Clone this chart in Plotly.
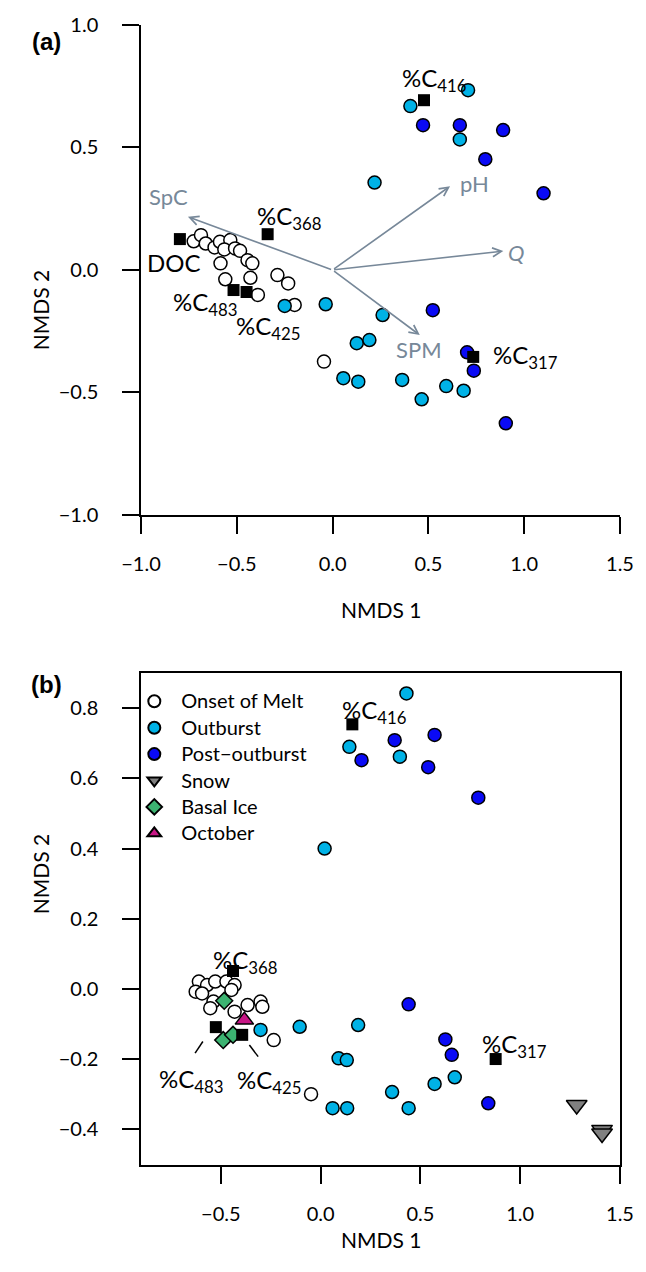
import plotly.graph_objects as go

# ---------------- data: panel (a) ----------------
a_onset_x = [-0.725, -0.687, -0.662, -0.616, -0.588, -0.534, -0.565, -0.509, -0.483, -0.585,
             -0.444, -0.419, -0.560, -0.429, -0.390, -0.288, -0.232, -0.198, -0.045]
a_onset_y = [0.117, 0.142, 0.108, 0.092, 0.115, 0.122, 0.084, 0.088, 0.078, 0.027,
             0.040, 0.027, -0.038, -0.032, -0.102, -0.021, -0.055, -0.143, -0.374]
a_outburst_x = [-0.250, -0.036, 0.261, 0.126, 0.192, 0.056, 0.134, 0.363, 0.465, 0.593,
                0.684, 0.707, 0.406, 0.664, 0.219]
a_outburst_y = [-0.147, -0.140, -0.184, -0.299, -0.286, -0.442, -0.456, -0.449, -0.528, -0.474,
                -0.493, 0.734, 0.669, 0.533, 0.357]
a_post_x = [0.472, 0.664, 0.890, 0.797, 1.101, 0.523, 0.702, 0.737, 0.904]
a_post_y = [0.591, 0.591, 0.571, 0.452, 0.313, -0.164, -0.336, -0.411, -0.626]
a_sq_x = [-0.797, -0.339, -0.517, -0.449, 0.477, 0.734]
a_sq_y = [0.126, 0.146, -0.082, -0.090, 0.693, -0.355]

vec_names = ["SpC", "pH", "Q", "SPM"]
vec_x = [-0.755, 0.613, 0.891, 0.455]
vec_y = [0.217, 0.342, 0.077, -0.266]

# ---------------- data: panel (b) ----------------
b_onset_x = [-0.610, -0.569, -0.528, -0.472, -0.431, -0.626, -0.594, -0.537, -0.447, -0.553,
             -0.431, -0.366, -0.301, -0.292, -0.235, -0.048]
b_onset_y = [0.021, 0.011, 0.021, 0.021, 0.011, -0.008, -0.013, -0.036, -0.003, -0.055,
             -0.065, -0.046, -0.036, -0.051, -0.146, -0.300]
b_outburst_x = [-0.301, -0.105, 0.188, 0.090, 0.131, 0.672, 0.571, 0.060, 0.133, 0.358,
                0.441, 0.430, 0.144, 0.397, 0.020]
b_outburst_y = [-0.117, -0.108, -0.103, -0.198, -0.203, -0.252, -0.271, -0.340, -0.340, -0.294,
                -0.340, 0.842, 0.690, 0.662, 0.400]
b_post_x = [0.441, 0.625, 0.657, 0.840, 0.371, 0.571, 0.205, 0.539, 0.790]
b_post_y = [-0.044, -0.144, -0.188, -0.326, 0.709, 0.724, 0.652, 0.632, 0.545]
b_snow_x = [1.283, 1.410, 1.410]
b_snow_y = [-0.331, -0.402, -0.412]
b_basal_x = [-0.483, -0.488, -0.439]
b_basal_y = [-0.034, -0.146, -0.131]
b_oct_x = [-0.382]
b_oct_y = [-0.089]
b_sq_x = [0.159, -0.439, -0.525, -0.393, 0.877]
b_sq_y = [0.754, 0.051, -0.109, -0.131, -0.200]

legend_names = ["Onset of Melt", "Outburst", "Post\u2212outburst", "Snow", "Basal Ice", "October"]

a_xticks = [-1.0, -0.5, 0.0, 0.5, 1.0, 1.5]
a_yticks = [-1.0, -0.5, 0.0, 0.5, 1.0]
b_xticks = [-0.5, 0.0, 0.5, 1.0, 1.5]
b_yticks = [-0.4, -0.2, 0.0, 0.2, 0.4, 0.6, 0.8]

# ---------------- style ----------------
FONT = "Lato"
GRAY = "#778899"
CYAN = "#00b2e6"
BLUE = "#0a0af5"
W, H = 646, 1272
L, R, T, B = 141, 15, 24.8, 107
PW, PH = W - L - R, H - T - B


def px_x(px):
    return (px - L) / PW


def px_y(py):
    return 1 - (py - T) / PH


def pts(x, y, xa, ya, symbol, size, color, name=None, show=False):
    return go.Scatter(
        x=x, y=y, xaxis=xa, yaxis=ya, mode="markers", name=name, showlegend=show,
        marker=dict(symbol=symbol, size=size, color=color,
                    line=dict(color="black", width=1.5 if symbol != "square" else 0)),
        cliponaxis=False, hoverinfo="skip")


def lname(s):
    return "<span style='font-size:20px'>" + s + "</span>"


fig = go.Figure()
# panel (a)
fig.add_trace(pts(a_onset_x, a_onset_y, "x", "y", "circle", 13, "white"))
fig.add_trace(pts(a_outburst_x, a_outburst_y, "x", "y", "circle", 13, CYAN))
fig.add_trace(pts(a_post_x, a_post_y, "x", "y", "circle", 13, BLUE))
fig.add_trace(pts(a_sq_x, a_sq_y, "x", "y", "square", 12, "black"))
# panel (b)
fig.add_trace(pts(b_onset_x, b_onset_y, "x2", "y2", "circle", 13, "white", lname(legend_names[0]), True))
fig.add_trace(pts(b_outburst_x, b_outburst_y, "x2", "y2", "circle", 13, CYAN, lname(legend_names[1]), True))
fig.add_trace(pts(b_post_x, b_post_y, "x2", "y2", "circle", 13, BLUE, lname(legend_names[2]), True))
fig.add_trace(pts(b_snow_x, b_snow_y, "x2", "y2", "triangle-down", 18, "#808080", lname(legend_names[3]), True))
fig.add_trace(pts(b_basal_x, b_basal_y, "x2", "y2", "diamond", 13, "#3cb371", lname(legend_names[4]), True))
fig.add_trace(pts(b_oct_x, b_oct_y, "x2", "y2", "triangle-up", 16, "#c71585", lname(legend_names[5]), True))
fig.add_trace(pts(b_sq_x, b_sq_y, "x2", "y2", "square", 12, "black"))

ann = []
# biplot arrows
for nx, ny in zip(vec_x, vec_y):
    ann.append(dict(x=nx, y=ny, ax=0, ay=0, xref="x", yref="y", axref="x", ayref="y",
                    text="", showarrow=True, arrowhead=5, arrowsize=1.1, arrowwidth=1.6,
                    arrowcolor=GRAY, standoff=0, startstandoff=0))


def lab(text, x, y, xref, yref, color="black", size=24, xanchor="center", yanchor="middle"):
    ann.append(dict(text=text, x=x, y=y, xref=xref, yref=yref, showarrow=False,
                    xanchor=xanchor, yanchor=yanchor,
                    font=dict(family=FONT, size=size, color=color)))


# gray vector labels (a)
lab("SpC", -0.855, 0.30, "x", "y", GRAY, 22)
lab("pH", 0.743, 0.354, "x", "y", GRAY, 22)
lab("<i>Q</i>", 0.957, 0.073, "x", "y", GRAY, 22)
lab("SPM", 0.453, -0.323, "x", "y", GRAY, 22)
lab("DOC", -0.830, 0.030, "x", "y", "black", 24)
# %C labels (a)
lab("%C<sub>368</sub>", -0.407, 0.215, "x", "y", xanchor="left")
lab("%C<sub>483</sub>", -0.845, -0.136, "x", "y", xanchor="left")
lab("%C<sub>425</sub>", -0.514, -0.234, "x", "y", xanchor="left")
lab("%C<sub>317</sub>", 0.825, -0.353, "x", "y", xanchor="left")
lab("%C<sub>416</sub>", 0.351, 0.778, "x", "y", xanchor="left")
# %C labels (b)
lab("%C<sub>416</sub>", 0.099, 0.79, "x2", "y2", xanchor="left")
lab("%C<sub>368</sub>", -0.551, 0.078, "x2", "y2", xanchor="left")
lab("%C<sub>317</sub>", 0.798, -0.161, "x2", "y2", xanchor="left")
lab("%C<sub>483</sub>", -0.820, -0.261, "x2", "y2", xanchor="left")
lab("%C<sub>425</sub>", -0.429, -0.264, "x2", "y2", xanchor="left")

# panel tags and axis titles
ann.append(dict(text="<b>(a)</b>", x=px_x(27), y=px_y(26), xref="paper", yref="paper",
                showarrow=False, font=dict(family="Liberation Sans", size=24, color="black")))
ann.append(dict(text="<b>(b)</b>", x=px_x(26), y=px_y(684), xref="paper", yref="paper",
                showarrow=False, font=dict(family="Liberation Sans", size=24, color="black")))
for (txt, cx, cy, ang) in [("NMDS 1", 386, 609, 0), ("NMDS 2", 23, 268, -90),
                           ("NMDS 1", 386, 1254, 0), ("NMDS 2", 23, 916, -90)]:
    ann.append(dict(text=txt, x=px_x(cx), y=px_y(cy), xref="paper", yref="paper",
                    showarrow=False, textangle=ang,
                    font=dict(family=FONT, size=21, color="black")))

shapes = [
    dict(type="line", xref="x2", yref="y2", x0=-0.629, y0=-0.183, x1=-0.590, y1=-0.150,
         line=dict(color="black", width=1.5)),
    dict(type="line", xref="x2", yref="y2", x0=-0.357, y0=-0.160, x1=-0.313, y1=-0.193,
         line=dict(color="black", width=1.5)),
]

axis_common = dict(showgrid=False, zeroline=False, showline=True, linecolor="black", linewidth=1.5,
                   ticks="outside", ticklen=17, tickwidth=1.5, tickcolor="black",
                   tickformat=".1f", ticklabeloverflow="allow",
                   tickfont=dict(family=FONT, size=20, color="black"))
XSO, YSO = 13, 20

fig.update_layout(
    width=W, height=H, margin=dict(l=L, r=R, t=T, b=B, pad=0),
    paper_bgcolor="white", plot_bgcolor="white",
    font=dict(family=FONT, color="black"),
    xaxis=dict(domain=[0, 1], range=[-1.0, 1.5], tickvals=a_xticks, anchor="y", mirror=False,
               ticklabelstandoff=XSO, **axis_common),
    yaxis=dict(domain=[px_y(514.8), 1], range=[-1.0, 1.0], tickvals=a_yticks, anchor="x",
               mirror=False, ticklabelstandoff=YSO, **axis_common),
    xaxis2=dict(domain=[0, 1], range=[-0.9, 1.5], tickvals=b_xticks, anchor="y2", mirror=True,
                ticklabelstandoff=XSO, **axis_common),
    yaxis2=dict(domain=[0, px_y(672.7)], range=[-0.502, 0.901], tickvals=b_yticks, anchor="x2",
                mirror=True, ticklabelstandoff=YSO, **axis_common),
    legend=dict(x=px_x(127), y=px_y(683), xanchor="left", yanchor="top",
                bgcolor="rgba(0,0,0,0)", borderwidth=0, itemsizing="constant",
                tracegroupgap=0, itemwidth=44,
                font=dict(family=FONT, size=18, color="black")),
    annotations=ann, shapes=shapes, showlegend=True,
)

# remove the default 8px page margin so the figure sits at the window origin
fig.write_html("out.html", config={"displayModeBar": False},
               post_script="document.body.style.margin='0px';document.body.style.overflow='hidden';")
